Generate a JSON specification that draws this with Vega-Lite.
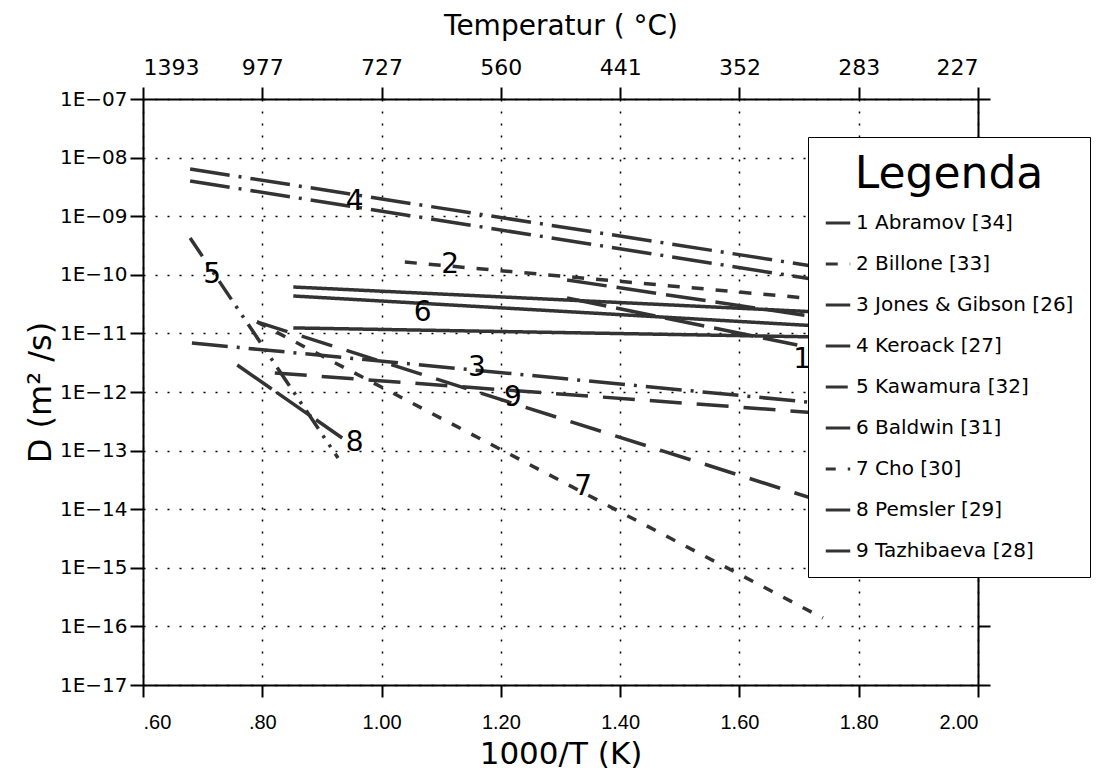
{
  "$schema": "https://vega.github.io/schema/vega-lite/v6.json",
  "width": 835,
  "height": 586,
  "autosize": {"type": "none"},
  "padding": {"left": 143, "top": 99, "right": 126, "bottom": 95},
  "background": "white",
  "config": {
    "view": {"stroke": null},
    "font": "DejaVu Sans",
    "axis": {
      "domainColor": "black",
      "domainWidth": 2,
      "tickColor": "black",
      "tickWidth": 2,
      "tickSize": 12,
      "labelColor": "black",
      "titleColor": "black",
      "labelFont": "DejaVu Sans",
      "titleFont": "DejaVu Sans",
      "titleFontWeight": "normal",
      "gridColor": "black",
      "gridDash": [2, 10],
      "gridWidth": 1.5,
      "gridOpacity": 1
    }
  },
  "datasets": {
    "lines": [
      {"series": "1 Abramov [34]", "seg": "1a", "x": 1.311, "d": 8.15e-11},
      {"series": "1 Abramov [34]", "seg": "1a", "x": 1.730, "d": 1.9e-11},
      {"series": "1 Abramov [34]", "seg": "1b", "x": 1.311, "d": 4.02e-11},
      {"series": "1 Abramov [34]", "seg": "1b", "x": 1.697, "d": 6.34e-12},
      {"series": "2 Billone [33]", "seg": "2a", "x": 1.039, "d": 1.65e-10},
      {"series": "2 Billone [33]", "seg": "2a", "x": 1.730, "d": 3.86e-11},
      {"series": "3 Jones & Gibson [26]", "seg": "3a", "x": 0.682, "d": 6.86e-12},
      {"series": "3 Jones & Gibson [26]", "seg": "3a", "x": 1.732, "d": 6.49e-13},
      {"series": "4 Keroack [27]", "seg": "4a", "x": 0.679, "d": 6.38e-9},
      {"series": "4 Keroack [27]", "seg": "4a", "x": 1.732, "d": 1.36e-10},
      {"series": "4 Keroack [27]", "seg": "4b", "x": 0.679, "d": 3.99e-9},
      {"series": "4 Keroack [27]", "seg": "4b", "x": 1.732, "d": 8.15e-11},
      {"series": "5 Kawamura [32]", "seg": "5a", "x": 0.679, "d": 4.25e-10},
      {"series": "5 Kawamura [32]", "seg": "5a", "x": 0.927, "d": 7.48e-14},
      {"series": "6 Baldwin [31]", "seg": "6a", "x": 0.852, "d": 6.19e-11},
      {"series": "6 Baldwin [31]", "seg": "6a", "x": 1.732, "d": 2.32e-11},
      {"series": "6 Baldwin [31]", "seg": "6b", "x": 0.852, "d": 4.35e-11},
      {"series": "6 Baldwin [31]", "seg": "6b", "x": 1.732, "d": 1.34e-11},
      {"series": "6 Baldwin [31]", "seg": "6c", "x": 0.852, "d": 1.24e-11},
      {"series": "6 Baldwin [31]", "seg": "6c", "x": 1.732, "d": 8.69e-12},
      {"series": "7 Cho [30]", "seg": "7a", "x": 0.791, "d": 1.57e-11},
      {"series": "7 Cho [30]", "seg": "7a", "x": 1.740, "d": 1.39e-16},
      {"series": "8 Pemsler [29]", "seg": "8a", "x": 0.758, "d": 2.89e-12},
      {"series": "8 Pemsler [29]", "seg": "8a", "x": 0.934, "d": 1.64e-13},
      {"series": "9 Tazhibaeva [28]", "seg": "9a", "x": 0.821, "d": 2.11e-12},
      {"series": "9 Tazhibaeva [28]", "seg": "9a", "x": 1.732, "d": 4.39e-13},
      {"series": "9 Tazhibaeva [28]", "seg": "9b", "x": 0.791, "d": 1.57e-11},
      {"series": "9 Tazhibaeva [28]", "seg": "9b", "x": 1.730, "d": 1.44e-14}
    ],
    "labels": [
      {"label": "1", "x": 1.705, "d": 3.55e-12},
      {"label": "2", "x": 1.115, "d": 1.48e-10},
      {"label": "3", "x": 1.160, "d": 2.57e-12},
      {"label": "4", "x": 0.955, "d": 1.74e-9},
      {"label": "5", "x": 0.716, "d": 1.0e-10},
      {"label": "6", "x": 1.069, "d": 2.24e-11},
      {"label": "7", "x": 1.338, "d": 2.4e-14},
      {"label": "8", "x": 0.955, "d": 1.35e-13},
      {"label": "9", "x": 1.220, "d": 7.94e-13}
    ]
  },
  "layer": [
    {
      "data": {"name": "lines"},
      "mark": {"type": "line", "color": "#333333", "strokeWidth": 3.5, "strokeCap": "butt"},
      "encoding": {
        "x": {
          "field": "x", "type": "quantitative",
          "scale": {"domain": [0.6, 2.0], "nice": false, "zero": false},
          "axis": {
            "orient": "bottom",
            "values": [0.6, 0.8, 1.0, 1.2, 1.4, 1.6, 1.8, 2.0],
            "labelExpr": "datum.value < 1 ? slice(format(datum.value, '.2f'), 1) : format(datum.value, '.2f')",
            "labelFontSize": 20,
            "labelFont": "Liberation Sans",
            "labelPadding": 15,
            "grid": true,
            "title": "1000/T (K)",
            "titleFontSize": 31,
            "titlePadding": 7
          }
        },
        "y": {
          "field": "d", "type": "quantitative",
          "scale": {"type": "log", "domain": [1e-17, 1e-7], "nice": false},
          "axis": {
            "orient": "left",
            "values": [1e-17, 1e-16, 1e-15, 1e-14, 1e-13, 1e-12, 1e-11, 1e-10, 1e-9, 1e-8, 1e-7],
            "labelExpr": "'1E−' + (round(-log(datum.value)/LN10) < 10 ? '0' : '') + round(-log(datum.value)/LN10)",
            "labelFontSize": 20,
            "labelPadding": 3,
            "tickSize": 13,
            "grid": true,
            "title": "D (m² /s)",
            "titleFontSize": 32,
            "titlePadding": 2
          }
        },
        "strokeDash": {
          "field": "series", "type": "nominal",
          "scale": {
            "domain": ["1 Abramov [34]", "2 Billone [33]", "3 Jones & Gibson [26]", "4 Keroack [27]", "5 Kawamura [32]", "6 Baldwin [31]", "7 Cho [30]", "8 Pemsler [29]", "9 Tazhibaeva [28]"],
            "range": [[40, 10], [12, 12], [36, 9, 3, 9], [40, 9, 3, 9], [22, 8, 3, 8, 3, 8], [1, 0], [10, 12], [42, 6], [32, 15]]
          },
          "legend": {
            "orient": "none",
            "legendX": 665,
            "legendY": 38,
            "title": "Legenda",
            "titleFont": "DejaVu Sans",
            "titleFontSize": 44,
            "titleFontWeight": "normal",
            "titleColor": "black",
            "titleAnchor": "middle",
            "titleLimit": 500,
            "titlePadding": 12,
            "strokeColor": "black",
            "fillColor": "white",
            "padding": 16,
            "symbolType": "stroke",
            "symbolStrokeWidth": 3,
            "symbolStrokeColor": "#333333",
            "symbolSize": 600,
            "labelFont": "DejaVu Sans",
            "labelFontSize": 20,
            "labelColor": "black",
            "labelLimit": 300,
            "rowPadding": 17
          }
        },
        "detail": {"field": "seg", "type": "nominal"}
      }
    },
    {
      "data": {"name": "labels"},
      "mark": {"type": "text", "fontSize": 28, "font": "DejaVu Sans", "color": "black", "align": "center", "baseline": "middle"},
      "encoding": {
        "x": {
          "field": "x", "type": "quantitative",
          "scale": {"domain": [0.6, 2.0], "nice": false, "zero": false},
          "axis": {
            "orient": "top",
            "values": [0.6, 0.8, 1.0, 1.2, 1.4, 1.6, 1.8, 2.0],
            "labelExpr": "['1393','977','727','560','441','352','283','227'][round((datum.value - 0.6) / 0.2)]",
            "labelFontSize": 22,
            "labelPadding": 8,
            "grid": false,
            "title": "Temperatur ( °C)",
            "titleFontSize": 28,
            "titlePadding": 16
          }
        },
        "y": {
          "field": "d", "type": "quantitative",
          "scale": {"type": "log", "domain": [1e-17, 1e-7], "nice": false},
          "axis": {
            "orient": "right",
            "values": [1e-17, 1e-16, 1e-15, 1e-14, 1e-13, 1e-12, 1e-11, 1e-10, 1e-9, 1e-8, 1e-7],
            "labels": false,
            "grid": false,
            "title": null
          }
        },
        "text": {"field": "label", "type": "nominal"}
      }
    }
  ],
  "resolve": {"scale": {"x": "independent", "y": "independent"}, "axis": {"x": "independent", "y": "independent"}}
}
